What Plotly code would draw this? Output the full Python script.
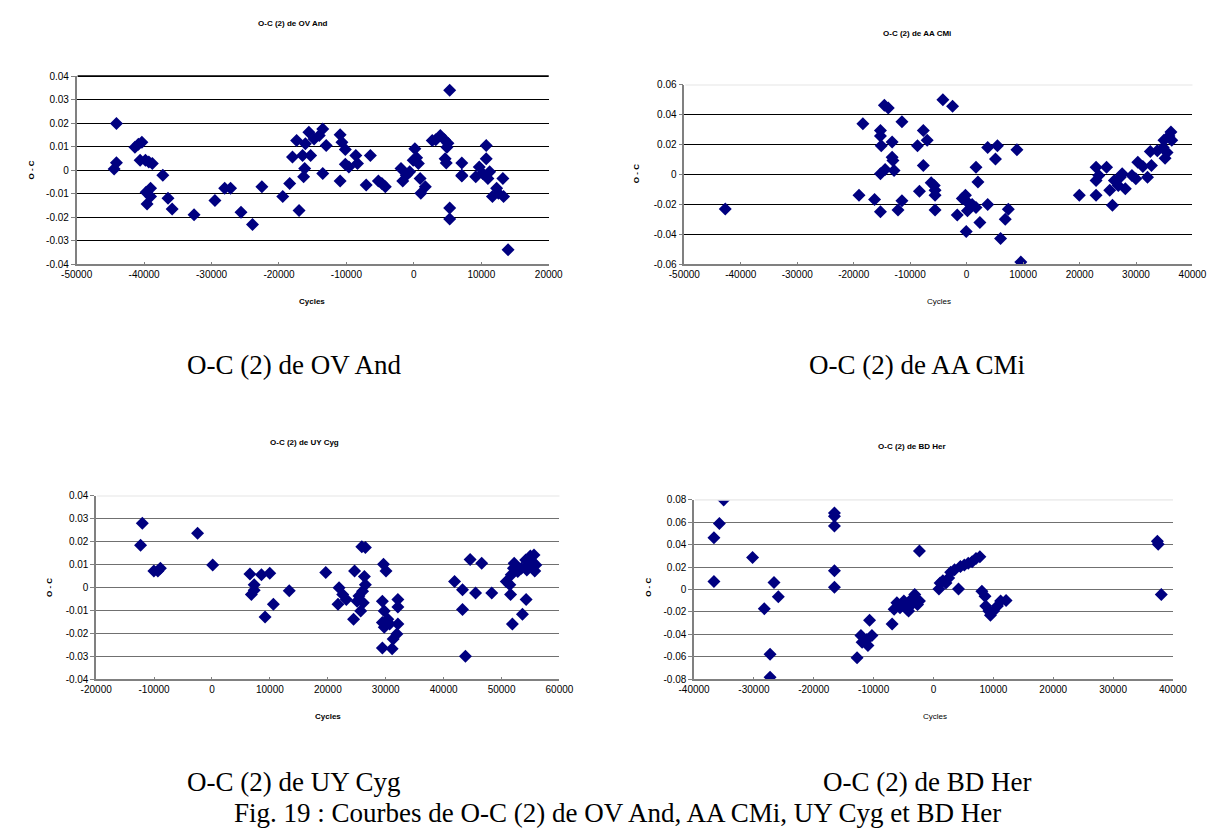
import plotly.graph_objects as go

# ---------------- DATA ----------------
ov_cycles = [-44100, -44100, -44450, -41360, -40850, -40330, -40590, -39800, -39300, -38780,
             -39700, -39040, -39560, -39040, -37230, -36460, -35840, -32590, -29500, -28050,
             -27180, -25630, -23930, -22540, -19440, -18410, -18000, -17380, -17020, -16350,
             -16190, -16500, -16090, -15570, -15310, -14800, -14030, -13510, -13510, -13000,
             -10930, -10930, -10670, -10160, -10160, -9640, -8610, -8360, -7070, -6450,
             -5260, -4740, -4230, -1910, -1650, -1130, -620, 150, -100, 410,
             670, 930, 1030, 1700, 2730, 3250, 3920, 4540, 5050, 4640,
             4800, 4900, 5310, 5310, 5310, 7110, 7110, 7110, 9180, 9700,
             10210, 10730, 10730, 10980, 11240, 11650, 12270, 12530, 13200, 13300,
             13970]
ov_oc = [0.0199, 0.0032, 0.0005, 0.0098, 0.0110, 0.0119, 0.0042, 0.0042, 0.0035, 0.0028,
         -0.0094, -0.0077, -0.0144, -0.0112, -0.0021, -0.0119, -0.0165, -0.0189, -0.0129, -0.0077,
         -0.0077, -0.0179, -0.0231, -0.0070, -0.0112, -0.0056, 0.0056, 0.0126, -0.0171, -0.0028,
         0.0007, 0.0063, 0.0112, 0.0161, 0.0063, 0.0133, 0.0147, 0.0175, -0.0014, 0.0105,
         0.0151, -0.0046, 0.0119, 0.0088, 0.0025, 0.0014, 0.0063, 0.0028, -0.0063, 0.0063,
         -0.0046, -0.0056, -0.0070, 0.0007, -0.0046, -0.0021, -0.0007, 0.0091, 0.0042, 0.0053,
         0.0028, -0.0035, -0.0098, -0.0070, 0.0126, 0.0129, 0.0147, 0.0129, 0.0115, 0.0049,
         0.0031, 0.0098, 0.0340, -0.0161, -0.0207, 0.0031, -0.0021, -0.0025, -0.0028, 0.0014,
         -0.0014, 0.0105, 0.0049, -0.0035, -0.0007, -0.0112, -0.0077, -0.0098, -0.0035, -0.0112,
         -0.0338]

aa_cycles = [-42750, -19060, -18370, -16300, -15260, -15260, -15120, -15260, -15260, -14570,
             -13880, -14430, -13190, -13190, -13050, -12850, -12150, -11460, -11460, -8700,
             -8360, -7670, -7670, -6980, -6280, -5730, -5590, -5590, -5590, -4210,
             -2490, -1660, -760, -210, 70, 140, -70, 970, 1660, 1660,
             2000, 2350, 3730, 3730, 5110, 5460, 6010, 6840, 7390, 8910,
             9600, 19960, 22930, 22930, 22930, 23410, 24790, 25350, 25830, 26170,
             26860, 27210, 27550, 28110, 29280, 29970, 30320, 31220, 32040, 32530,
             32730, 33770, 34810, 34950, 35150, 35500, 35840, 36190, 36330]
aa_oc = [-0.0230, -0.0138, 0.0340, -0.0166, 0.0296, 0.0259, 0.0193, 0.0006, -0.0248, 0.0464,
         0.0446, 0.0034, 0.0219, 0.0116, 0.0094, 0.0028, -0.0237, -0.0175, 0.0354, 0.0193,
         -0.0111, 0.0296, 0.0061, 0.0230, -0.0054, -0.0072, -0.0105, -0.0138, -0.0237, 0.0501,
         0.0457, -0.0270, -0.0160, -0.0138, -0.0182, -0.0241, -0.0380, -0.0199, -0.0219, 0.0050,
         -0.0050, -0.0320, -0.0199, 0.0182, 0.0105, 0.0193, -0.0428, -0.0298, -0.0232, 0.0166,
         -0.0585, -0.0138, 0.0050, -0.0039, -0.0138, -0.0006, 0.0050, -0.0105, -0.0204, -0.0039,
         -0.0072, -0.0017, 0.0006, -0.0094, -0.0006, -0.0028, 0.0083, 0.0054, -0.0017, 0.0155,
         0.0061, 0.0160, 0.0182, 0.0230, 0.0109, 0.0149, 0.0259, 0.0285, 0.0230]

uy_cycles = [-12030, -12340, -10040, -8910, -9350, -2490, 120, 6550, 6800, 7290,
             7290, 8540, 9160, 9970, 10600, 13340, 19640, 21940, 21760, 22570,
             23190, 24440, 24620, 25060, 25370, 25680, 25870, 26490, 26000, 26120,
             26310, 26490, 29610, 30050, 29420, 29740, 29420, 29740, 29420, 30360,
             30670, 31110, 31290, 31920, 32100, 32100, 32100, 41890, 43260, 43260,
             43760, 44570, 45510, 46570, 48310, 50810, 51430, 51560, 51870, 51680,
             52050, 52180, 52800, 53430, 53610, 54240, 54170, 54670, 54980, 55290,
             55600, 55730, 55920, 54360]
uy_oc = [0.0281, 0.0185, 0.0073, 0.0085, 0.0073, 0.0237, 0.0099, 0.0059, -0.0030, 0.0013,
         -0.0011, 0.0056, -0.0128, 0.0063, -0.0073, -0.0014, 0.0066, -0.0001, -0.0073, -0.0030,
         -0.0052, -0.0138, 0.0073, -0.0059, -0.0037, -0.0102, 0.0178, 0.0175, -0.0016, -0.0066,
         0.0049, 0.0013, 0.0102, 0.0073, -0.0059, -0.0102, -0.0152, -0.0173, -0.0264, -0.0138,
         -0.0159, -0.0267, -0.0224, -0.0202, -0.0159, -0.0052, -0.0085, 0.0027, -0.0009, -0.0095,
         -0.0300, 0.0123, -0.0023, 0.0106, -0.0023, 0.0027, 0.0013, -0.0030, -0.0159, 0.0056,
         0.0085, 0.0106, 0.0070, 0.0085, -0.0116, -0.0052, 0.0120, 0.0099, 0.0138, 0.0113,
         0.0142, 0.0073, 0.0099, 0.0077]

bd_cycles = [-36680, -36680, -35770, -35050, -30230, -28270, -27300, -27300, -26650, -25930,
             -16550, -16550, -16550, -16550, -16550, -12770, -12120, -11920, -11140, -10950,
             -10680, -10290, -6910, -6580, -6120, -5600, -4950, -4430, -4170, -3970,
             -3650, -3130, -2670, -2350, -2350, 910, 1110, 1560, 2080, 2540,
             2870, 3520, 4170, 4500, 5150, 5800, 6450, 7100, 7750, 8080,
             8600, 8730, 9250, 9510, 10030, 10680, 11210, 12120, 37400, 37530,
             38050]
bd_oc = [0.0463, 0.0073, 0.0589, 0.0800, 0.0287, -0.0170, -0.0577, -0.0782, 0.0064, -0.0064,
         0.0683, 0.0653, 0.0566, 0.0167, 0.0021, -0.0607, -0.0410, -0.0469, -0.0445, -0.0498,
         -0.0273, -0.0410, -0.0308, -0.0176, -0.0117, -0.0161, -0.0103, -0.0176, -0.0190, -0.0103,
         -0.0132, -0.0044, -0.0132, -0.0103, 0.0343, 0.0006, 0.0059, 0.0079, 0.0059, 0.0103,
         0.0155, 0.0176, 0.0006, 0.0205, 0.0220, 0.0234, 0.0249, 0.0278, 0.0293, -0.0015,
         -0.0059, -0.0147, -0.0190, -0.0229, -0.0190, -0.0147, -0.0103, -0.0097, 0.0431, 0.0404,
         -0.0044]

# tick values / labels
ov_xticks = [-50000, -40000, -30000, -20000, -10000, 0, 10000, 20000]
ov_xlabels = ["-50000", "-40000", "-30000", "-20000", "-10000", "0", "10000", "20000"]
ov_yticks = [-0.04, -0.03, -0.02, -0.01, 0, 0.01, 0.02, 0.03, 0.04]
ov_ylabels = ["-0.04", "-0.03", "-0.02", "-0.01", "0", "0.01", "0.02", "0.03", "0.04"]

aa_xticks = [-50000, -40000, -30000, -20000, -10000, 0, 10000, 20000, 30000, 40000]
aa_xlabels = ["-50000", "-40000", "-30000", "-20000", "-10000", "0", "10000", "20000", "30000", "40000"]
aa_yticks = [-0.06, -0.04, -0.02, 0, 0.02, 0.04, 0.06]
aa_ylabels = ["-0.06", "-0.04", "-0.02", "0", "0.02", "0.04", "0.06"]

uy_xticks = [-20000, -10000, 0, 10000, 20000, 30000, 40000, 50000, 60000]
uy_xlabels = ["-20000", "-10000", "0", "10000", "20000", "30000", "40000", "50000", "60000"]
uy_yticks = ov_yticks
uy_ylabels = ov_ylabels

bd_xticks = [-40000, -30000, -20000, -10000, 0, 10000, 20000, 30000, 40000]
bd_xlabels = ["-40000", "-30000", "-20000", "-10000", "0", "10000", "20000", "30000", "40000"]
bd_yticks = [-0.08, -0.06, -0.04, -0.02, 0, 0.02, 0.04, 0.06, 0.08]
bd_ylabels = ["-0.08", "-0.06", "-0.04", "-0.02", "0", "0.02", "0.04", "0.06", "0.08"]

chart_titles = ["O-C (2) de OV And", "O-C (2) de AA CMi", "O-C (2) de UY Cyg", "O-C (2) de BD Her"]
x_title = "Cycles"
y_title = "O - C"
fig_caption = "Fig. 19 : Courbes de O-C (2) de OV And, AA CMi, UY Cyg et BD Her"

# ---------------- LAYOUT ----------------
W, H = 1217, 832
OFF = 8  # the page body has an 8px default margin
MARK = "#000080"
SANS = "Liberation Sans, Arial, sans-serif"
SERIF = "Liberation Serif, Times New Roman, serif"


def px(x):
    return (x - OFF) / W


def py(y):
    return 1 - (y - OFF) / H


panels = [
    dict(x=ov_cycles, y=ov_oc, xt=ov_xticks, xl=ov_xlabels, yt=ov_yticks, yl=ov_ylabels,
         xd=(62, 546), yd=(71, 262), grid="#000000", top="#000000",
         title_pos=(284, 18), xt_pos=(303, 300), yt_pos=(16, 166), cap_pos=(285, 364)),
    dict(x=aa_cycles, y=aa_oc, xt=aa_xticks, xl=aa_xlabels, yt=aa_yticks, yl=aa_ylabels,
         xd=(685, 1206), yd=(80, 262), grid="#000000", top="#eeeeee",
         title_pos=(924, 28), xt_pos=(946, 300), yt_pos=(636, 170), cap_pos=(924, 364)),
    dict(x=uy_cycles, y=uy_oc, xt=uy_xticks, xl=uy_xlabels, yt=uy_yticks, yl=uy_ylabels,
         xd=(82, 557), yd=(497, 683), grid="#707070", top="#eeeeee",
         title_pos=(296, 443), xt_pos=(320, 721), yt_pos=(34, 590), cap_pos=(284, 787)),
    dict(x=bd_cycles, y=bd_oc, xt=bd_xticks, xl=bd_xlabels, yt=bd_yticks, yl=bd_ylabels,
         xd=(695, 1186), yd=(501, 683), grid="#707070", top="#eeeeee",
         title_pos=(918, 447), xt_pos=(942, 721), yt_pos=(648, 590), cap_pos=(934, 787)),
]

fig = go.Figure()
annotations = []
shapes = []
tickfont = dict(family=SANS, size=10, color="#000000")


def label(text, x, y, size, family, angle=0):
    return dict(text=text, xref="paper", yref="paper", x=px(x), y=py(y),
                xanchor="center", yanchor="middle", showarrow=False, textangle=angle,
                font=dict(family=family, size=size, color="#000000"))


for i, p in enumerate(panels, start=1):
    sfx = "" if i == 1 else str(i)
    fig.add_trace(go.Scatter(
        x=p["x"], y=p["y"], mode="markers",
        marker=dict(symbol="diamond", size=10, color=MARK, line=dict(width=0)),
        xaxis="x" + sfx, yaxis="y" + sfx, showlegend=False, hoverinfo="x+y"))
    fig.update_layout(**{
        "xaxis" + sfx: dict(
            domain=[px(p["xd"][0]), px(p["xd"][1])], anchor="y" + sfx,
            range=[p["xt"][0], p["xt"][-1]], tickvals=p["xt"], ticktext=p["xl"],
            showgrid=False, zeroline=False, showline=True, linecolor="#808080", linewidth=1.5,
            ticks="inside", ticklen=3, tickcolor="#808080", tickfont=tickfont),
        "yaxis" + sfx: dict(
            domain=[py(p["yd"][1]), py(p["yd"][0])], anchor="x" + sfx,
            range=[p["yt"][0], p["yt"][-1]], tickvals=p["yt"], ticktext=p["yl"],
            showgrid=True, gridcolor=p["grid"], gridwidth=1.2, zeroline=False,
            showline=True, linecolor="#808080", linewidth=1.5,
            ticks="outside", ticklen=4, tickcolor="#808080", tickfont=tickfont),
    })
    shapes.append(dict(type="line", xref="x" + sfx + " domain", yref="y" + sfx + " domain",
                       x0=0.002, x1=1, y0=1, y1=1, line=dict(color=p["top"], width=1.6), layer="above"))
    annotations.append(label("<b>" + chart_titles[i - 1] + "</b>", *p["title_pos"], 8, SANS))
    annotations.append(label("<b>" + x_title + "</b>" if i in (1, 3) else x_title, *p["xt_pos"], 8, SANS))
    annotations.append(label("<b>" + y_title + "</b>", *p["yt_pos"], 8, SANS, angle=-90))
    annotations.append(label(chart_titles[i - 1], *p["cap_pos"], 27, SERIF))

annotations.append(label(fig_caption, 616, 819, 27, SERIF))

fig.update_layout(width=W, height=H, margin=dict(l=0, r=0, t=0, b=0),
                  paper_bgcolor="white", plot_bgcolor="white",
                  annotations=annotations, shapes=shapes)

fig.write_html("out.html")
